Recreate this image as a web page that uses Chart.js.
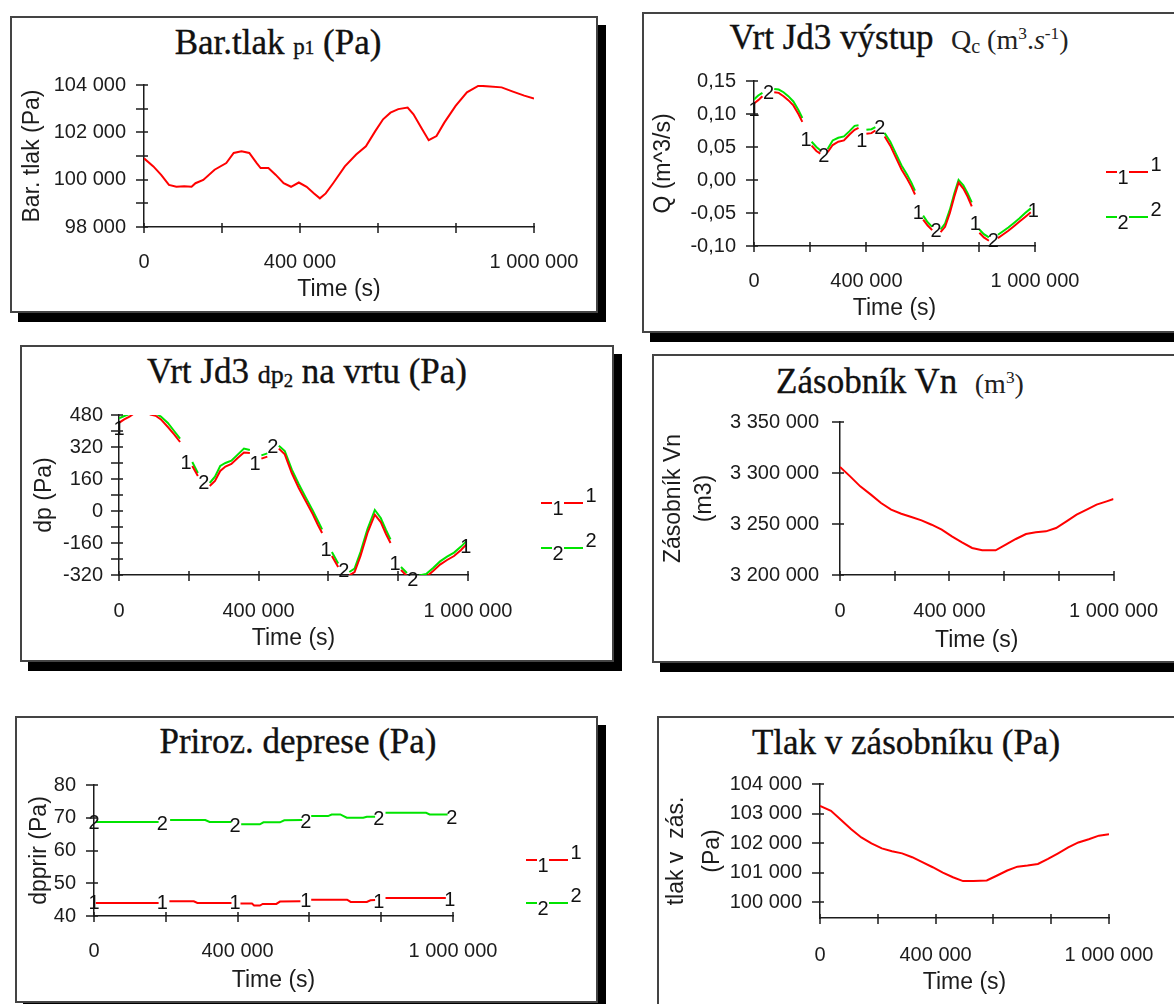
<!DOCTYPE html>
<html><head><meta charset="utf-8">
<script src="https://cdn.jsdelivr.net/npm/chart.js@4.4.1/dist/chart.umd.min.js"></script>
<style>
html,body{margin:0;padding:0;background:#fff;}
body{width:1174px;height:1004px;overflow:hidden;position:relative;}
.box{position:absolute;border:2px solid #444;box-shadow:8px 9px 0 #000;background:#fff;box-sizing:border-box;}
.ttl{position:absolute;width:600px;text-align:center;font-family:"Liberation Serif","Times New Roman",serif;font-size:35px;line-height:35px;color:#111;white-space:nowrap;-webkit-text-stroke:0.35px #111;}
.ttl sup{font-size:0.62em;vertical-align:0.6em;line-height:0;}
.ttl sub{font-size:0.72em;vertical-align:-0.22em;line-height:0;}
.lt{font-size:28px;color:#222;-webkit-text-stroke:0;}
</style></head><body>
<div class="box" style="left:10px;top:16px;width:588px;height:297px"></div>
<div class="box" style="left:642px;top:12px;width:560px;height:321px"></div>
<div class="box" style="left:20px;top:345px;width:594px;height:317px"></div>
<div class="box" style="left:652px;top:354px;width:560px;height:309px"></div>
<div class="box" style="left:15px;top:716px;width:583px;height:287px"></div>
<div class="box" style="left:657px;top:716px;width:560px;height:320px"></div>

<div class="ttl" style="left:-22px;top:25px">Bar.tlak <span style="font-size:23px">p<span style="font-size:19px">1</span></span> (Pa)</div>
<div class="ttl" style="left:599px;top:20px">Vrt Jd3 výstup&nbsp; <span class="lt">Q<sub>c</sub> (m<sup>3</sup>.<i>s</i><sup>-1</sup>)</span></div>
<div class="ttl" style="left:7px;top:354px">Vrt Jd3 <span style="font-size:26px">dp<sub>2</sub></span> na vrtu (Pa)</div>
<div class="ttl" style="left:600px;top:364px">Zásobník Vn&nbsp; <span class="lt">(m<sup>3</sup>)</span></div>
<div class="ttl" style="left:-2px;top:724px">Priroz. deprese (Pa)</div>
<div class="ttl" style="left:606px;top:725px">Tlak v zásobníku (Pa)</div>

<script>
// ---------- shared axis data (time in thousands of seconds) ----------
const xTicksKs = [0, 200, 400, 600, 800, 1000];
const xLabelKs = [0, 400, 1000];
const seriesNames = ['1', '2'];

// ---------- Panel 1: Bar.tlak p1 ----------
const timeBaro = [0,24,44,64,83,103,122,132,152,181,211,230,250,270,289,299,319,338,358,377,397,417,436,451,466,485,515,544,569,593,613,632,652,676,691,711,730,750,770,799,828,858,887,917,946,975,1000];
const baroPressure = [100900,100560,100200,99780,99700,99720,99700,99850,99990,100420,100700,101130,101200,101130,100700,100490,100490,100200,99850,99700,99880,99700,99420,99210,99420,99850,100560,101060,101410,102050,102550,102830,102980,103050,102760,102190,101670,101840,102410,103120,103690,103970,103940,103900,103720,103550,103430];
const baroTicks = [98000,99000,100000,101000,102000,103000,104000];
const baroLabels = [98000,100000,102000,104000];

// ---------- Panel 2: Vrt Jd3 výstup Qc ----------
const timeQ = [0,15,30,52,72,88,105,122,140,158,172,185,205,222,236,248,262,280,300,320,340,358,372,384,400,418,432,448,465,485,505,525,545,560,573,585,602,618,634,648,664,680,697,713,728,745,760,775,788,802,818,836,852,868,885,905,925,945,965,985];
const flowQ1 = [0.116,0.121,0.127,null,0.133,0.132,0.127,0.121,0.113,0.100,0.088,null,0.052,0.044,0.040,null,0.042,0.053,0.058,0.060,0.069,0.076,0.079,null,0.070,0.071,0.075,null,0.066,0.052,0.034,0.016,0.002,-0.010,-0.022,null,-0.060,-0.069,-0.076,null,-0.079,-0.071,-0.050,-0.025,-0.004,-0.013,-0.025,-0.040,null,-0.080,-0.087,-0.092,null,-0.088,-0.083,-0.077,-0.070,-0.063,-0.056,-0.049];
const flowQ2 = [0.122,0.128,0.132,null,0.138,0.137,0.133,0.127,0.119,0.106,0.094,null,0.058,0.050,0.045,null,0.047,0.060,0.064,0.066,0.074,0.082,0.083,null,0.076,0.077,0.080,null,0.071,0.058,0.040,0.022,0.008,-0.004,-0.016,null,-0.054,-0.064,-0.071,null,-0.075,-0.066,-0.045,-0.020,0.000,-0.008,-0.020,-0.034,null,-0.075,-0.082,-0.087,null,-0.083,-0.078,-0.072,-0.065,-0.058,-0.050,-0.043];
const qMark1T = [0,185,384,585,788,994];
const qMark1V = [0.106,0.060,0.058,-0.050,-0.068,-0.048];
const qMark2T = [52,248,448,648,852];
const qMark2V = [0.131,0.035,0.078,-0.078,-0.093];
const qTicks = [-0.10,-0.05,0.00,0.05,0.10,0.15];

// ---------- Panel 3: Vrt Jd3 dp2 na vrtu ----------
const timeDp = [0,15,30,45,60,75,90,105,120,140,158,175,192,210,226,243,260,275,290,305,322,340,358,375,390,408,425,441,458,475,495,515,535,555,570,582,593,610,628,644,660,675,692,712,733,750,765,778,791,808,825,842,860,880,900,920,940,960,980,995];
const dp1 = [441,458,472,490,505,500,482,476,458,420,383,345,null,225,175,null,125,150,200,222,235,265,292,290,null,262,272,null,312,283,190,115,50,-15,-70,-110,null,-225,-280,null,-322,-305,-225,-110,-18,-55,-115,-160,null,-295,-325,null,-335,-330,-300,-268,-245,-225,-195,-168];
const dp2 = [463,475,485,500,515,510,495,488,472,440,400,362,null,245,190,null,140,172,225,240,252,282,312,305,null,278,288,null,326,300,208,135,68,3,-50,-92,null,-205,-262,null,-305,-288,-205,-90,5,-35,-95,-142,null,-280,-310,null,-322,-315,-285,-252,-228,-208,-178,-152];
const dpMark1T = [0,192,390,593,791,994];
const dpMark1V = [408,239,231,-199,-266,-182];
const dpMark2T = [243,441,644,842];
const dpMark2V = [138,318,-300,-345];
const dpTicks = [-320,-240,-160,-80,0,80,160,240,320,400,480];
const dpLabels = [-320,-160,0,160,320,480];

// ---------- Panel 4: Zásobník Vn ----------
const timeVn = [0,37,74,113,150,187,224,261,298,335,372,409,446,483,520,569,606,643,680,716,753,790,828,865,902,938,975,1000];
const volumeVn = [3306000,3296700,3286900,3278800,3270600,3264100,3260100,3256900,3253600,3249300,3244400,3237900,3232000,3226500,3224200,3224200,3229700,3235300,3240200,3241800,3242800,3246100,3252600,3259200,3264100,3269000,3272200,3274500];
const vnTicks = [3200000,3250000,3300000,3350000];

// ---------- Panel 5: Priroz. deprese ----------
const timeDpr1 = [5,180,190,210,278,288,383,393,408,440,446,462,470,508,518,575,590,605,705,715,760,770,783,793,812,980];
const dpprir1 = [44.0,44.0,null,44.5,44.5,44.0,44.0,null,43.8,43.8,43.2,43.2,43.7,43.7,44.4,44.5,null,45.0,45.0,44.3,44.3,44.8,44.9,null,45.5,45.5];
const timeDpr2 = [5,180,190,212,310,322,383,393,410,462,472,518,530,580,590,605,652,662,686,704,750,760,783,793,812,925,935,985];
const dpprir2 = [68.7,68.7,null,69.3,69.3,68.7,68.7,null,68.0,68.0,68.6,68.6,69.2,69.3,null,70.5,70.5,71.0,71.0,70.0,70.0,70.3,70.3,null,71.5,71.5,71.0,71.0];
const dprMark1T = [0,190,393,590,793,991];
const dprMark1V = [43.9,43.7,43.7,44.4,44.2,44.6];
const dprMark2T = [0,190,393,590,793,997];
const dprMark2V = [68.3,67.8,67.3,68.5,69.5,69.8];
const dprTicks = [40,50,60,70,80];

// ---------- Panel 6: Tlak v zásobníku ----------
const timeTz = [0,38,73,108,143,178,214,249,284,319,354,390,425,460,495,531,577,613,648,683,718,754,789,824,859,894,930,965,1000];
const pressTz = [103260,103090,102780,102470,102190,101990,101820,101720,101650,101520,101350,101180,101000,100840,100710,100710,100730,100900,101070,101200,101240,101290,101460,101650,101850,102020,102130,102250,102300];
const tzTicks = [100000,101000,102000,103000,104000];

// ---------- helpers ----------
const RED = '#ff0000', GREEN = '#00e400', INK = '#1c1c1c';
const SANS = '"Liberation Sans", Arial, sans-serif';
function spaced(v){ const s = Math.round(Math.abs(v)).toString().replace(/\B(?=(\d{3})+(?!\d))/g,' '); return (v<0?'-':'')+s; }
function comma2(v){ return v.toFixed(2).replace('.',','); }
function pts(t, v){ return t.map((x,i)=>({x:x, y:v[i]})); }

const extras = {
  id:'extras',
  afterDatasetsDraw(chart, args, opts){
    const ctx = chart.ctx, xs = chart.scales.x, ys = chart.scales.y;
    ctx.save();
    ctx.font = '20px ' + SANS; ctx.fillStyle = '#111';
    ctx.textAlign = 'center'; ctx.textBaseline = 'middle';
    (opts.marks||[]).forEach(m => m.t.forEach((t,i) => {
      ctx.fillText(m.label, xs.getPixelForValue(t), ys.getPixelForValue(m.v[i]));
    }));
    ctx.restore();
  },
  afterDraw(chart, args, opts){
    const ctx = chart.ctx, xs = chart.scales.x, ys = chart.scales.y, a = chart.chartArea;
    ctx.save();
    ctx.strokeStyle = INK; ctx.lineWidth = 1.5;
    ctx.beginPath();
    ys.ticks.forEach(tk => { const y = Math.round(ys.getPixelForValue(tk.value)); ctx.moveTo(a.left-8, y); ctx.lineTo(a.left+4, y); });
    xs.ticks.forEach(tk => { const x = Math.round(xs.getPixelForValue(tk.value)); ctx.moveTo(x, a.bottom-4); ctx.lineTo(x, a.bottom+6); });
    ctx.stroke();
    const lg = opts.legend;
    if (lg) {
      ctx.font = '20px ' + SANS; ctx.textAlign = 'center'; ctx.textBaseline = 'middle';
      lg.items.forEach(it => {
        const x0 = a.right + lg.dx, y = it.y;
        ctx.strokeStyle = it.color; ctx.lineWidth = 2;
        ctx.beginPath(); ctx.moveTo(x0, y); ctx.lineTo(x0+11, y); ctx.moveTo(x0+23, y); ctx.lineTo(x0+42, y); ctx.stroke();
        ctx.fillStyle = '#111';
        ctx.fillText(it.label, x0+17, y+6);
        ctx.fillText(it.label, x0+50, y-7);
      });
    }
    ctx.restore();
  }
};

function build(p){
  const cv = document.createElement('canvas');
  cv.width = p.cw; cv.height = p.ch;
  cv.style.cssText = 'position:absolute;left:'+p.cx+'px;top:'+p.cy+'px;width:'+p.cw+'px;height:'+p.ch+'px;';
  document.body.appendChild(cv);
  const L = p.area[0]-p.cx, T = p.area[1]-p.cy, R = p.cx+p.cw-p.area[2], B = p.cy+p.ch-p.area[3];
  return new Chart(cv, {
    type:'line',
    data:{datasets: p.series.map(s => ({data: pts(s.t, s.v), borderColor: s.color, borderWidth: 2, pointRadius: 0, spanGaps: false, tension: 0, fill: false}))},
    options:{
      responsive:false, animation:false, devicePixelRatio:1,
      layout:{padding:{left:0, top:T, right:R, bottom:0}},
      plugins:{legend:{display:false}, tooltip:{enabled:false}, title:{display:false},
        extras:{marks:p.marks||[], legend:p.legend||null}},
      scales:{
        x:{type:'linear', min:0, max:1000,
          afterFit: s => { s.height = B; },
          afterBuildTicks: s => { s.ticks = xTicksKs.map(v => ({value:v})); },
          grid:{display:false}, border:{display:true, color:INK, width:1.5},
          ticks:{autoSkip:false, maxRotation:0, padding:p.xPad, color:INK, font:{family:SANS, size:20},
            callback: v => xLabelKs.includes(v) ? spaced(v*1000) : ''},
          title:{display:true, text:'Time (s)', color:INK, font:{family:SANS, size:23, lineHeight:1.2}, padding:{top:0, bottom:p.xtPad}}},
        y:{type:'linear', min:p.ymin, max:p.ymax,
          afterFit: s => { s.width = L; },
          afterBuildTicks: s => { s.ticks = p.yTicks.map(v => ({value:v})); },
          grid:{display:false}, border:{display:true, color:INK, width:1.5},
          ticks:{autoSkip:false, padding:p.yPad, color:INK, font:{family:SANS, size:20},
            callback: v => p.yLabels.includes(v) ? p.fmt(v) : ''},
          title:{display:true, text:p.yTitle, color:INK, font:{family:SANS, size:23, lineHeight:p.ytLH||1.2}, padding:{top:p.ytPad, bottom:0}}}
      }
    },
    plugins:[extras]
  });
}

// Panel 1
build({cx:12, cy:18, cw:584, ch:293, area:[144,85,534,227],
  series:[{t:timeBaro, v:baroPressure, color:RED}],
  ymin:98000, ymax:104000, yTicks:baroTicks, yLabels:baroLabels, fmt:spaced,
  xPad:15, xtPad:8, yPad:10, ytPad:7, yTitle:'Bar. tlak (Pa)'});

// Panel 2
build({cx:644, cy:14, cw:530, ch:317, area:[754,81,1035,246],
  series:[{t:timeQ, v:flowQ1, color:RED},{t:timeQ, v:flowQ2, color:GREEN}],
  ymin:-0.10, ymax:0.15, yTicks:qTicks, yLabels:qTicks, fmt:comma2,
  xPad:15, xtPad:9, yPad:10, ytPad:6, yTitle:'Q (m^3/s)',
  marks:[{label:seriesNames[0], t:qMark1T, v:qMark1V},{label:seriesNames[1], t:qMark2T, v:qMark2V}],
  legend:{dx:71, items:[{label:seriesNames[0], color:RED, y:158},{label:seriesNames[1], color:GREEN, y:203}]}});

// Panel 3
build({cx:22, cy:347, cw:590, ch:313, area:[119,415,468,575],
  series:[{t:timeDp, v:dp1, color:RED},{t:timeDp, v:dp2, color:GREEN}],
  ymin:-320, ymax:480, yTicks:dpTicks, yLabels:dpLabels, fmt:spaced,
  xPad:16, xtPad:8, yPad:8, ytPad:9, yTitle:'dp (Pa)',
  marks:[{label:seriesNames[0], t:dpMark1T, v:dpMark1V},{label:seriesNames[1], t:dpMark2T, v:dpMark2V}],
  legend:{dx:73, items:[{label:seriesNames[0], color:RED, y:156},{label:seriesNames[1], color:GREEN, y:201}]}});

// Panel 4
build({cx:654, cy:356, cw:520, ch:305, area:[840,422,1116,575],
  series:[{t:timeVn, v:volumeVn, color:RED}],
  ymin:3200000, ymax:3350000, yTicks:vnTicks, yLabels:vnTicks, fmt:spaced,
  xPad:16, xtPad:7, yPad:13, ytPad:4, ytLH:1.35, yTitle:['Zásobník Vn','(m3)']});

// Panel 5
build({cx:17, cy:718, cw:579, ch:283, area:[94,785,453,916],
  series:[{t:timeDpr1, v:dpprir1, color:RED},{t:timeDpr2, v:dpprir2, color:GREEN}],
  ymin:40, ymax:80, yTicks:dprTicks, yLabels:dprTicks, fmt:spaced,
  xPad:15, xtPad:7, yPad:10, ytPad:9, yTitle:'dpprir (Pa)',
  marks:[{label:seriesNames[0], t:dprMark1T, v:dprMark1V},{label:seriesNames[1], t:dprMark2T, v:dprMark2V}],
  legend:{dx:73, items:[{label:seriesNames[0], color:RED, y:142},{label:seriesNames[1], color:GREEN, y:185}]}});

// Panel 6
build({cx:659, cy:718, cw:515, ch:286, area:[820,784,1109,918],
  series:[{t:timeTz, v:pressTz, color:RED}],
  ymin:99460, ymax:104000, yTicks:tzTicks, yLabels:tzTicks, fmt:spaced,
  xPad:17, xtPad:8, yPad:10, ytPad:0, ytLH:1.55, yTitle:['tlak v  zás.','(Pa)']});
</script>
</body></html>
